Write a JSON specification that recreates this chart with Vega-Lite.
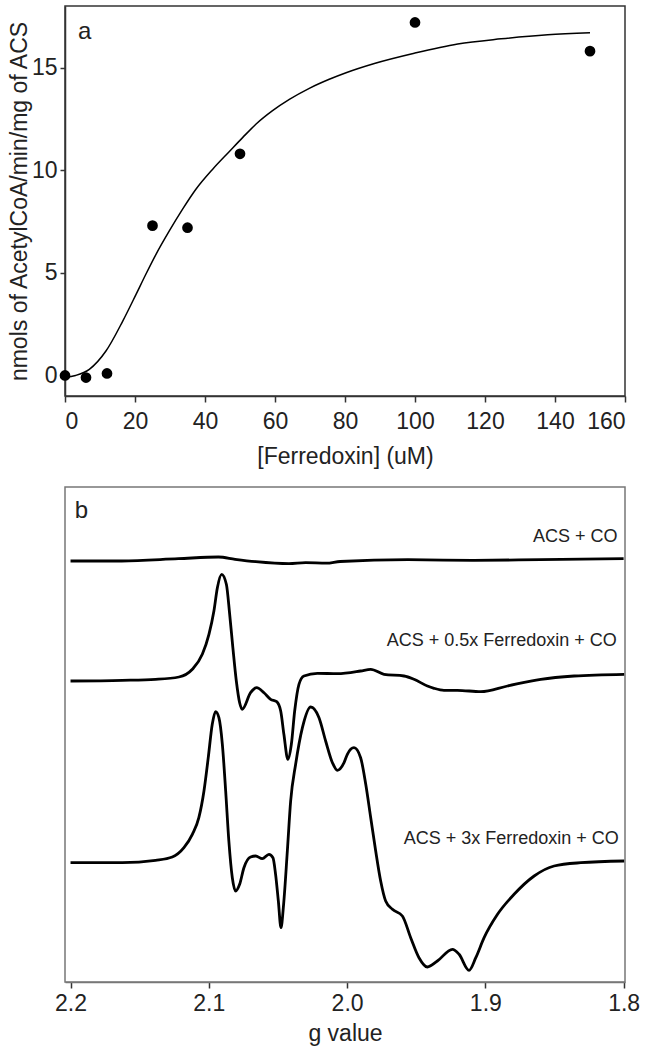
{
  "$schema": "https://vega.github.io/schema/vega-lite/v6.json",
  "padding": {"left": 7, "top": 5, "right": 5, "bottom": 0},
  "background": "white",
  "spacing": 17,
  "config": {
    "font": "Liberation Sans",
    "view": {"stroke": "#333", "strokeWidth": 1.5},
    "axis": {
      "grid": false,
      "labelFont": "Liberation Sans",
      "titleFont": "Liberation Sans",
      "labelFontSize": 23,
      "titleFontSize": 23,
      "titleFontWeight": "normal",
      "labelColor": "#222",
      "titleColor": "#222",
      "tickColor": "#333",
      "domainColor": "#333",
      "tickSize": 6,
      "tickWidth": 1.5,
      "domainWidth": 1.5,
      "labelPadding": 4
    }
  },
  "datasets": {
    "fit": [
      {"ferredoxin": 0, "rate": -0.1},
      {"ferredoxin": 3, "rate": 0.0},
      {"ferredoxin": 6.95, "rate": 0.3},
      {"ferredoxin": 11.7, "rate": 1.19},
      {"ferredoxin": 16.5, "rate": 2.65},
      {"ferredoxin": 20.3, "rate": 3.95},
      {"ferredoxin": 23.1, "rate": 4.93},
      {"ferredoxin": 26, "rate": 5.9},
      {"ferredoxin": 29.8, "rate": 7.04},
      {"ferredoxin": 33.6, "rate": 8.1},
      {"ferredoxin": 37.4, "rate": 9.07},
      {"ferredoxin": 42.2, "rate": 10.05},
      {"ferredoxin": 46.9, "rate": 10.9},
      {"ferredoxin": 50.8, "rate": 11.6},
      {"ferredoxin": 54.6, "rate": 12.25},
      {"ferredoxin": 59.3, "rate": 12.9},
      {"ferredoxin": 64.1, "rate": 13.45},
      {"ferredoxin": 69.8, "rate": 13.99},
      {"ferredoxin": 75.5, "rate": 14.43},
      {"ferredoxin": 80.3, "rate": 14.75},
      {"ferredoxin": 88.4, "rate": 15.2},
      {"ferredoxin": 99.8, "rate": 15.7},
      {"ferredoxin": 112.2, "rate": 16.15},
      {"ferredoxin": 124.6, "rate": 16.4},
      {"ferredoxin": 137.9, "rate": 16.6},
      {"ferredoxin": 150, "rate": 16.7}
    ],
    "points": [
      {"ferredoxin": 0, "rate": 0.0},
      {"ferredoxin": 6, "rate": -0.1},
      {"ferredoxin": 12, "rate": 0.1},
      {"ferredoxin": 25, "rate": 7.3},
      {"ferredoxin": 35, "rate": 7.2},
      {"ferredoxin": 50, "rate": 10.8},
      {"ferredoxin": 100, "rate": 17.2},
      {"ferredoxin": 150, "rate": 15.8}
    ],
    "labelA": [
      {"ferredoxin": 3.7, "rate": 16.4, "label": "a"}
    ],
    "epr": [
      {"series": "ACS + CO", "g": 2.2, "signal": 421},
      {"series": "ACS + CO", "g": 2.163, "signal": 421},
      {"series": "ACS + CO", "g": 2.122, "signal": 423.3},
      {"series": "ACS + CO", "g": 2.093, "signal": 425},
      {"series": "ACS + CO", "g": 2.081, "signal": 422.7},
      {"series": "ACS + CO", "g": 2.066, "signal": 420.3},
      {"series": "ACS + CO", "g": 2.042, "signal": 418.3},
      {"series": "ACS + CO", "g": 2.03, "signal": 419.3},
      {"series": "ACS + CO", "g": 2.015, "signal": 418.8},
      {"series": "ACS + CO", "g": 2.005, "signal": 420.5},
      {"series": "ACS + CO", "g": 1.956, "signal": 422.3},
      {"series": "ACS + CO", "g": 1.908, "signal": 421.7},
      {"series": "ACS + CO", "g": 1.86, "signal": 422.3},
      {"series": "ACS + CO", "g": 1.8, "signal": 423.3},

      {"series": "ACS + 0.5x Ferredoxin + CO", "g": 2.2, "signal": 301},
      {"series": "ACS + 0.5x Ferredoxin + CO", "g": 2.1626, "signal": 301.7},
      {"series": "ACS + 0.5x Ferredoxin + CO", "g": 2.1385, "signal": 302.7},
      {"series": "ACS + 0.5x Ferredoxin + CO", "g": 2.1216, "signal": 305},
      {"series": "ACS + 0.5x Ferredoxin + CO", "g": 2.1119, "signal": 312.7},
      {"series": "ACS + 0.5x Ferredoxin + CO", "g": 2.1047, "signal": 327.7},
      {"series": "ACS + 0.5x Ferredoxin + CO", "g": 2.0999, "signal": 347.7},
      {"series": "ACS + 0.5x Ferredoxin + CO", "g": 2.0963, "signal": 371},
      {"series": "ACS + 0.5x Ferredoxin + CO", "g": 2.0938, "signal": 394.3},
      {"series": "ACS + 0.5x Ferredoxin + CO", "g": 2.0907, "signal": 407.7},
      {"series": "ACS + 0.5x Ferredoxin + CO", "g": 2.0873, "signal": 397.7},
      {"series": "ACS + 0.5x Ferredoxin + CO", "g": 2.0849, "signal": 367.7},
      {"series": "ACS + 0.5x Ferredoxin + CO", "g": 2.0826, "signal": 334.3},
      {"series": "ACS + 0.5x Ferredoxin + CO", "g": 2.0801, "signal": 301},
      {"series": "ACS + 0.5x Ferredoxin + CO", "g": 2.0777, "signal": 279.3},
      {"series": "ACS + 0.5x Ferredoxin + CO", "g": 2.0758, "signal": 272.7},
      {"series": "ACS + 0.5x Ferredoxin + CO", "g": 2.0698, "signal": 289.3},
      {"series": "ACS + 0.5x Ferredoxin + CO", "g": 2.0654, "signal": 294.3},
      {"series": "ACS + 0.5x Ferredoxin + CO", "g": 2.0601, "signal": 289.3},
      {"series": "ACS + 0.5x Ferredoxin + CO", "g": 2.0553, "signal": 282.7},
      {"series": "ACS + 0.5x Ferredoxin + CO", "g": 2.0509, "signal": 280.3},
      {"series": "ACS + 0.5x Ferredoxin + CO", "g": 2.048, "signal": 271},
      {"series": "ACS + 0.5x Ferredoxin + CO", "g": 2.0457, "signal": 247.7},
      {"series": "ACS + 0.5x Ferredoxin + CO", "g": 2.0428, "signal": 222.7},
      {"series": "ACS + 0.5x Ferredoxin + CO", "g": 2.0403, "signal": 237.7},
      {"series": "ACS + 0.5x Ferredoxin + CO", "g": 2.0379, "signal": 271},
      {"series": "ACS + 0.5x Ferredoxin + CO", "g": 2.0348, "signal": 297.7},
      {"series": "ACS + 0.5x Ferredoxin + CO", "g": 2.0312, "signal": 306},
      {"series": "ACS + 0.5x Ferredoxin + CO", "g": 2.0215, "signal": 308.7},
      {"series": "ACS + 0.5x Ferredoxin + CO", "g": 2.007, "signal": 308.3},
      {"series": "ACS + 0.5x Ferredoxin + CO", "g": 1.9902, "signal": 311},
      {"series": "ACS + 0.5x Ferredoxin + CO", "g": 1.9829, "signal": 312.7},
      {"series": "ACS + 0.5x Ferredoxin + CO", "g": 1.9733, "signal": 307.7},
      {"series": "ACS + 0.5x Ferredoxin + CO", "g": 1.9588, "signal": 306},
      {"series": "ACS + 0.5x Ferredoxin + CO", "g": 1.9516, "signal": 302.7},
      {"series": "ACS + 0.5x Ferredoxin + CO", "g": 1.9419, "signal": 296},
      {"series": "ACS + 0.5x Ferredoxin + CO", "g": 1.9371, "signal": 293.7},
      {"series": "ACS + 0.5x Ferredoxin + CO", "g": 1.9299, "signal": 291.7},
      {"series": "ACS + 0.5x Ferredoxin + CO", "g": 1.9202, "signal": 291.7},
      {"series": "ACS + 0.5x Ferredoxin + CO", "g": 1.9033, "signal": 290.3},
      {"series": "ACS + 0.5x Ferredoxin + CO", "g": 1.884, "signal": 296},
      {"series": "ACS + 0.5x Ferredoxin + CO", "g": 1.8599, "signal": 302.7},
      {"series": "ACS + 0.5x Ferredoxin + CO", "g": 1.8358, "signal": 306},
      {"series": "ACS + 0.5x Ferredoxin + CO", "g": 1.7996, "signal": 307.7},

      {"series": "ACS + 3x Ferredoxin + CO", "g": 2.2, "signal": 119.3},
      {"series": "ACS + 3x Ferredoxin + CO", "g": 2.1626, "signal": 119.3},
      {"series": "ACS + 3x Ferredoxin + CO", "g": 2.1385, "signal": 121.7},
      {"series": "ACS + 3x Ferredoxin + CO", "g": 2.1264, "signal": 125},
      {"series": "ACS + 3x Ferredoxin + CO", "g": 2.118, "signal": 134.3},
      {"series": "ACS + 3x Ferredoxin + CO", "g": 2.1119, "signal": 147.7},
      {"series": "ACS + 3x Ferredoxin + CO", "g": 2.1072, "signal": 164.3},
      {"series": "ACS + 3x Ferredoxin + CO", "g": 2.1035, "signal": 191},
      {"series": "ACS + 3x Ferredoxin + CO", "g": 2.1004, "signal": 224.3},
      {"series": "ACS + 3x Ferredoxin + CO", "g": 2.0975, "signal": 257.7},
      {"series": "ACS + 3x Ferredoxin + CO", "g": 2.0951, "signal": 270.3},
      {"series": "ACS + 3x Ferredoxin + CO", "g": 2.0927, "signal": 264.3},
      {"series": "ACS + 3x Ferredoxin + CO", "g": 2.0902, "signal": 237.7},
      {"series": "ACS + 3x Ferredoxin + CO", "g": 2.0878, "signal": 191},
      {"series": "ACS + 3x Ferredoxin + CO", "g": 2.0855, "signal": 141},
      {"series": "ACS + 3x Ferredoxin + CO", "g": 2.083, "signal": 104.3},
      {"series": "ACS + 3x Ferredoxin + CO", "g": 2.0806, "signal": 91},
      {"series": "ACS + 3x Ferredoxin + CO", "g": 2.0777, "signal": 97.7},
      {"series": "ACS + 3x Ferredoxin + CO", "g": 2.0746, "signal": 114.3},
      {"series": "ACS + 3x Ferredoxin + CO", "g": 2.0698, "signal": 125},
      {"series": "ACS + 3x Ferredoxin + CO", "g": 2.0661, "signal": 126},
      {"series": "ACS + 3x Ferredoxin + CO", "g": 2.0613, "signal": 123.3},
      {"series": "ACS + 3x Ferredoxin + CO", "g": 2.0565, "signal": 127.7},
      {"series": "ACS + 3x Ferredoxin + CO", "g": 2.0536, "signal": 124.3},
      {"series": "ACS + 3x Ferredoxin + CO", "g": 2.0517, "signal": 107.7},
      {"series": "ACS + 3x Ferredoxin + CO", "g": 2.0497, "signal": 81},
      {"series": "ACS + 3x Ferredoxin + CO", "g": 2.0478, "signal": 54.3},
      {"series": "ACS + 3x Ferredoxin + CO", "g": 2.0459, "signal": 77.7},
      {"series": "ACS + 3x Ferredoxin + CO", "g": 2.0432, "signal": 131},
      {"series": "ACS + 3x Ferredoxin + CO", "g": 2.0408, "signal": 181},
      {"series": "ACS + 3x Ferredoxin + CO", "g": 2.0372, "signal": 217.7},
      {"series": "ACS + 3x Ferredoxin + CO", "g": 2.0323, "signal": 254.3},
      {"series": "ACS + 3x Ferredoxin + CO", "g": 2.0263, "signal": 275},
      {"series": "ACS + 3x Ferredoxin + CO", "g": 2.0203, "signal": 264.3},
      {"series": "ACS + 3x Ferredoxin + CO", "g": 2.0155, "signal": 241},
      {"series": "ACS + 3x Ferredoxin + CO", "g": 2.0106, "signal": 219.3},
      {"series": "ACS + 3x Ferredoxin + CO", "g": 2.007, "signal": 211.7},
      {"series": "ACS + 3x Ferredoxin + CO", "g": 2.0022, "signal": 219.3},
      {"series": "ACS + 3x Ferredoxin + CO", "g": 1.9998, "signal": 227.7},
      {"series": "ACS + 3x Ferredoxin + CO", "g": 1.995, "signal": 234.3},
      {"series": "ACS + 3x Ferredoxin + CO", "g": 1.9902, "signal": 224.3},
      {"series": "ACS + 3x Ferredoxin + CO", "g": 1.9865, "signal": 197.7},
      {"series": "ACS + 3x Ferredoxin + CO", "g": 1.9829, "signal": 164.3},
      {"series": "ACS + 3x Ferredoxin + CO", "g": 1.9793, "signal": 131},
      {"series": "ACS + 3x Ferredoxin + CO", "g": 1.9757, "signal": 101},
      {"series": "ACS + 3x Ferredoxin + CO", "g": 1.9721, "signal": 81},
      {"series": "ACS + 3x Ferredoxin + CO", "g": 1.9672, "signal": 72.7},
      {"series": "ACS + 3x Ferredoxin + CO", "g": 1.96, "signal": 66},
      {"series": "ACS + 3x Ferredoxin + CO", "g": 1.954, "signal": 44.3},
      {"series": "ACS + 3x Ferredoxin + CO", "g": 1.948, "signal": 24.3},
      {"series": "ACS + 3x Ferredoxin + CO", "g": 1.9419, "signal": 15},
      {"series": "ACS + 3x Ferredoxin + CO", "g": 1.9347, "signal": 21},
      {"series": "ACS + 3x Ferredoxin + CO", "g": 1.9238, "signal": 32.7},
      {"series": "ACS + 3x Ferredoxin + CO", "g": 1.919, "signal": 27.7},
      {"series": "ACS + 3x Ferredoxin + CO", "g": 1.9118, "signal": 11.7},
      {"series": "ACS + 3x Ferredoxin + CO", "g": 1.9069, "signal": 24.3},
      {"series": "ACS + 3x Ferredoxin + CO", "g": 1.9009, "signal": 44.3},
      {"series": "ACS + 3x Ferredoxin + CO", "g": 1.8912, "signal": 67.7},
      {"series": "ACS + 3x Ferredoxin + CO", "g": 1.8792, "signal": 87.7},
      {"series": "ACS + 3x Ferredoxin + CO", "g": 1.8647, "signal": 106},
      {"series": "ACS + 3x Ferredoxin + CO", "g": 1.8503, "signal": 116},
      {"series": "ACS + 3x Ferredoxin + CO", "g": 1.831, "signal": 119.3},
      {"series": "ACS + 3x Ferredoxin + CO", "g": 1.7996, "signal": 121}
    ],
    "eprLabels": [
      {"series": "ACS + CO", "g": 1.8044, "signal": 445},
      {"series": "ACS + 0.5x Ferredoxin + CO", "g": 1.8049, "signal": 341},
      {"series": "ACS + 3x Ferredoxin + CO", "g": 1.8035, "signal": 143}
    ],
    "labelB": [
      {"g": 2.197, "signal": 464, "label": "b"}
    ]
  },
  "vconcat": [
    {
      "width": 560,
      "height": 390,
      "layer": [
        {
          "data": {"name": "fit"},
          "mark": {"type": "line", "color": "black", "strokeWidth": 1.5, "interpolate": "monotone"},
          "encoding": {
            "x": {"field": "ferredoxin", "type": "quantitative", "scale": {"domain": [0, 160], "nice": false}, "axis": {"values": [0, 20, 40, 60, 80, 100, 120, 140, 160], "labelPadding": 8, "titlePadding": 12}, "title": "[Ferredoxin] (uM)"},
            "y": {"field": "rate", "type": "quantitative", "scale": {"domain": [-1, 18], "nice": false, "zero": false}, "axis": {"values": [0, 5, 10, 15], "tickSize": 5, "labelPadding": 3, "titlePadding": 0}, "title": "nmols of AcetylCoA/min/mg of ACS"}
          }
        },
        {
          "data": {"name": "points"},
          "mark": {"type": "circle", "size": 115, "color": "black", "opacity": 1},
          "encoding": {
            "x": {"field": "ferredoxin", "type": "quantitative"},
            "y": {"field": "rate", "type": "quantitative"}
          }
        },
        {
          "data": {"name": "labelA"},
          "mark": {"type": "text", "fontSize": 24, "align": "left", "baseline": "alphabetic", "color": "#222"},
          "encoding": {
            "x": {"field": "ferredoxin", "type": "quantitative"},
            "y": {"field": "rate", "type": "quantitative"},
            "text": {"field": "label"}
          }
        }
      ]
    },
    {
      "width": 560,
      "height": 495,
      "view": {"stroke": "#777", "strokeWidth": 1.5},
      "layer": [
        {
          "data": {"name": "epr"},
          "mark": {"type": "line", "color": "black", "strokeWidth": 2.8, "interpolate": "monotone"},
          "encoding": {
            "x": {"field": "g", "type": "quantitative", "scale": {"domain": [1.799, 2.204], "reverse": true, "nice": false, "zero": false}, "axis": {"values": [2.2, 2.1, 2.0, 1.9, 1.8], "format": ".1f", "labelPadding": 4, "titlePadding": 7, "domainColor": "#777"}, "title": "g value"},
            "y": {"field": "signal", "type": "quantitative", "scale": {"domain": [0, 495], "nice": false, "zero": false}, "axis": null},
            "detail": {"field": "series"}
          }
        },
        {
          "data": {"name": "eprLabels"},
          "mark": {"type": "text", "fontSize": 18, "align": "right", "baseline": "middle", "color": "#222"},
          "encoding": {
            "x": {"field": "g", "type": "quantitative"},
            "y": {"field": "signal", "type": "quantitative"},
            "text": {"field": "series"}
          }
        },
        {
          "data": {"name": "labelB"},
          "mark": {"type": "text", "fontSize": 24, "align": "left", "baseline": "alphabetic", "color": "#222"},
          "encoding": {
            "x": {"field": "g", "type": "quantitative"},
            "y": {"field": "signal", "type": "quantitative"},
            "text": {"field": "label"}
          }
        }
      ]
    }
  ]
}
